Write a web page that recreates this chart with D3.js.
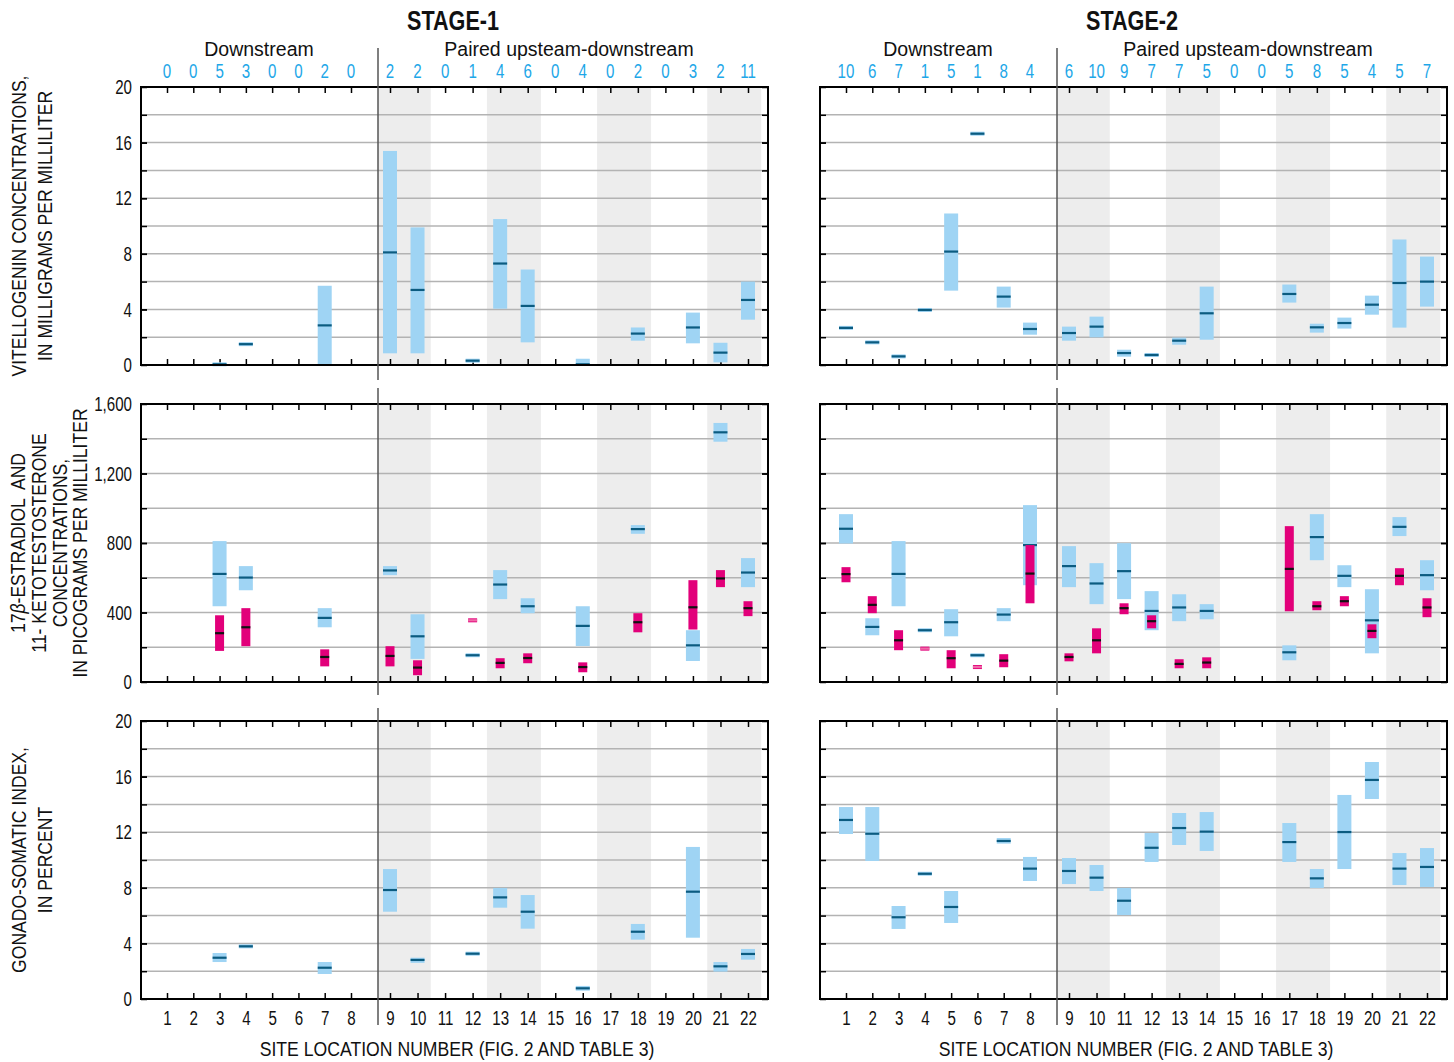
<!DOCTYPE html>
<meta charset="utf-8">
<style>
  body { margin: 0; background: #fff; }
  svg { font-family: "Liberation Sans", Arial, sans-serif; }
  .tick line { stroke: #000; stroke-width: 1.5; }
  .domain { display: none; }
</style>
<body>
<svg id="chart" width="1454" height="1062"></svg>
<script src="https://d3js.org/d3.v7.min.js"></script>
<script>
// ---- data ----
var sites = d3.range(1, 23);
var downSites = d3.range(1, 9);
var pairSites = d3.range(9, 23);
var shadedPairs = [[9, 10], [13, 14], [17, 18], [21, 22]];

// number of fish per site, shown above each panel
var countsStage1 = [0, 0, 5, 3, 0, 0, 2, 0, 2, 2, 0, 1, 4, 6, 0, 4, 0, 2, 0, 3, 2, 11];
var countsStage2 = [10, 6, 7, 1, 5, 1, 8, 4, 6, 10, 9, 7, 7, 5, 0, 0, 5, 8, 5, 4, 5, 7];

// [site, low, median, high]
var vtgStage1 = [[3,0,0.05,0.15],[4,1.45,1.5,1.55],[7,0,2.85,5.7],[9,0.84,8.1,15.4],[10,0.84,5.4,9.9],
  [12,0.22,0.31,0.4],[13,4.05,7.3,10.5],[14,1.63,4.25,6.87],[16,0,0.05,0.45],[18,1.75,2.26,2.7],
  [20,1.56,2.7,3.77],[21,0.19,0.89,1.6],[22,3.26,4.68,6.0]];
var vtgStage2 = [[1,2.6,2.67,2.75],[2,1.57,1.63,1.7],[3,0.57,0.62,0.68],[4,3.9,3.96,4.02],[5,5.35,8.16,10.9],
  [6,16.58,16.64,16.7],[7,4.13,4.92,5.64],[8,2.18,2.59,3.05],[9,1.75,2.3,2.76],[10,1.99,2.76,3.48],
  [11,0.6,0.86,1.1],[12,0.66,0.72,0.78],[13,1.46,1.75,1.97],[14,1.82,3.72,5.64],[17,4.49,5.11,5.79],
  [18,2.33,2.71,2.97],[19,2.62,3.02,3.41],[20,3.62,4.34,4.99],[21,2.69,5.9,9.03],[22,4.2,6.0,7.8]];

var e2Stage1 = [[3,436,622,811],[4,528,601,667],[7,315,369,425],[9,615,642,667],[10,133,263,390],
  [12,150,154,158],[13,477,561,644],[14,396,436,482],[16,207,323,436],[18,853,880,903],
  [20,121,211,298],[21,1383,1437,1491],[22,546,630,713]];
var ktStage1 = [[3,179,281,384],[4,206,315,425],[7,90,144,188],[9,90,150,206],[10,39,83,125],
  [12,352,355,360],[13,79,110,137],[14,108,138,165],[16,56,86,113],[18,286,344,396],
  [20,302,430,586],[21,546,596,644],[22,379,425,465]];
var e2Stage2 = [[1,797,882,966],[2,269,317,367],[3,436,622,811],[4,294,298,302],[5,263,344,419],
  [6,150,154,158],[7,350,388,425],[8,557,788,1018],[9,546,667,782],[10,448,567,684],
  [11,477,638,799],[12,298,409,523],[13,350,429,505],[14,361,409,448],[17,125,171,211],
  [18,701,834,966],[19,546,611,672],[20,165,355,534],[21,840,893,949],[22,528,615,701]];
var ktStage2 = [[1,574,621,661],[2,396,444,494],[3,183,240,298],[4,188,192,196],[5,79,137,183],
  [6,82,86,90],[7,85,123,160],[8,453,624,788],[9,119,144,165],[10,165,240,309],
  [11,390,425,453],[12,309,350,384],[13,79,104,131],[14,79,112,142],[17,407,651,897],
  [18,413,436,465],[19,436,465,494],[20,252,294,332],[21,557,611,655],[22,373,429,482]];

var gsiStage1 = [[3,2.66,2.97,3.31],[4,3.7,3.79,3.9],[7,1.8,2.25,2.66],[9,6.28,7.84,9.35],[10,2.6,2.81,2.97],
  [12,3.2,3.26,3.32],[13,6.57,7.31,7.99],[14,5.06,6.28,7.48],[16,0.6,0.77,0.94],[18,4.27,4.84,5.4],
  [20,4.41,7.72,10.94],[21,1.97,2.35,2.66],[22,2.83,3.24,3.6]];
var gsiStage2 = [[1,11.87,12.88,13.81],[2,9.93,11.89,13.81],[3,5.04,5.88,6.69],[4,8.97,9.01,9.05],
  [5,5.47,6.62,7.77],[7,11.18,11.37,11.58],[8,8.49,9.38,10.22],[9,8.27,9.21,10.14],[10,7.77,8.73,9.64],
  [11,6.04,7.07,7.99],[12,9.86,10.88,11.94],[13,11.08,12.3,13.38],[14,10.65,12.04,13.45],
  [17,9.86,11.29,12.66],[18,7.99,8.68,9.35],[19,9.35,12.01,14.68],[20,14.39,15.76,17.05],
  [21,8.2,9.38,10.5],[22,8.06,9.5,10.86]];

var vtgTicks = [0, 4, 8, 12, 16, 20];
var hormoneTicks = [0, 400, 800, 1200, 1600];
var gsiTicks = [0, 4, 8, 12, 16, 20];

// ---- layout ----
var svg = d3.select("#chart");
var panelW = 627, panelH = 278;
var colX = [141, 820];
var rowY = [87, 404, 721];
var blue = "#9fd4f4", blueMed = "#0b5b80", pink = "#e2007a", pinkMed = "#111";

// squeeze text horizontally to mimic the condensed face of the original
function squeeze(sel, k) {
  sel.each(function() {
    var t = d3.select(this);
    var tx = +t.attr("x") || 0, ty = +t.attr("y") || 0;
    t.attr("x", 0).attr("y", 0)
      .attr("transform", "translate(" + tx + "," + ty + ") scale(" + k + ",1)");
  });
}

var xDown = d3.scalePoint().domain(downSites).range([26, 210]);
var xPair = d3.scalePoint().domain(pairSites).range([249, 607]);
var x = d3.scaleOrdinal().domain(sites)
  .range(sites.map(function(s) { return s <= 8 ? xDown(s) : xPair(s); }));
var half = xPair.step() * 0.48;
var divX = 237;

var rows = [
  { y: d3.scaleLinear().domain([0, 20]).range([panelH, 0]), grid: d3.range(2, 20, 2), labels: vtgTicks,
    series: [[vtgStage1], [vtgStage2]], div: [48, 380],
    title: ["VITELLOGENIN CONCENTRATIONS,", "IN MILLIGRAMS PER MILLILITER"], titleX: [19, 45] },
  { y: d3.scaleLinear().domain([0, 1600]).range([panelH, 0]), grid: d3.range(200, 1600, 200), labels: hormoneTicks,
    series: [[e2Stage1, ktStage1], [e2Stage2, ktStage2]], div: [388, 695],
    title: ["17β-ESTRADIOL  AND", "11- KETOTESTOSTERONE", "CONCENTRATIONS,", "IN PICOGRAMS PER MILLILITER"], titleX: [18, 39, 60, 80] },
  { y: d3.scaleLinear().domain([0, 20]).range([panelH, 0]), grid: d3.range(2, 20, 2), labels: gsiTicks,
    series: [[gsiStage1], [gsiStage2]], div: [708, 1025],
    title: ["GONADO-SOMATIC INDEX,", "IN PERCENT"], titleX: [19, 45] }
];

rows.forEach(function(row, r) {
  var y = row.y;
  colX.forEach(function(cx, c) {
    var g = svg.append("g").attr("transform", "translate(" + cx + "," + rowY[r] + ")");

    // shaded pair bands
    g.selectAll(".band").data(shadedPairs).enter().append("rect")
      .attr("x", function(d) { return Math.max(divX, x(d[0]) - half); })
      .attr("width", function(d) { return x(d[1]) + half - Math.max(divX, x(d[0]) - half); })
      .attr("y", 0).attr("height", panelH)
      .attr("fill", "#ededed");

    // gridlines
    g.selectAll(".grid").data(row.grid).enter().append("line")
      .attr("x1", 0).attr("x2", panelW)
      .attr("y1", function(d) { return y(d); }).attr("y2", function(d) { return y(d); })
      .attr("stroke", "#b3b3b3").attr("stroke-width", 1.5);

    // axes with inward ticks
    var all = row.grid.concat(row.labels);
    g.append("g").call(d3.axisLeft(y).tickValues(all).tickSize(-6).tickFormat(""));
    g.append("g").attr("transform", "translate(" + panelW + ",0)")
      .call(d3.axisRight(y).tickValues(all).tickSize(-6).tickFormat(""));
    g.append("g").call(d3.axisTop(x).tickSize(-6).tickFormat(""));
    var bx = g.append("g").attr("transform", "translate(0," + panelH + ")")
      .call(d3.axisBottom(x).tickSize(-6).tickFormat(r == 2 ? d3.format("d") : ""));
    bx.selectAll("text").attr("y", 11).attr("font-size", 21).attr("font-family", null).attr("fill", "#111")
      .call(squeeze, 0.72);

    if (c == 0) {
      var yl = g.append("g").call(d3.axisLeft(y).tickValues(row.labels).tickSize(0).tickPadding(9).tickFormat(d3.format(",")));
      yl.selectAll("text").attr("font-size", 21).attr("font-family", null).attr("fill", "#111")
        .call(squeeze, 0.72);
    }

    // boxes
    row.series[c].forEach(function(data, k) {
      var w = k == 0 ? 14 : 9;
      var fill = k == 0 ? blue : pink;
      var med = k == 0 ? blueMed : pinkMed;
      var bg = g.append("g");
      bg.selectAll("rect").data(data).enter().append("rect")
        .attr("x", function(d) { return x(d[0]) - w / 2; })
        .attr("width", w)
        .attr("y", function(d) { return Math.min(y(d[3]), y(d[2]) - 2); })
        .attr("height", function(d) { return Math.max(y(d[1]) - y(d[3]), 4); })
        .attr("fill", fill);
      bg.selectAll("line").data(data).enter().append("line")
        .attr("x1", function(d) { return x(d[0]) - w / 2; })
        .attr("x2", function(d) { return x(d[0]) + w / 2; })
        .attr("y1", function(d) { return y(d[2]); })
        .attr("y2", function(d) { return y(d[2]); })
        .attr("stroke", function(d) { return (d[3] - d[1]) / (y.domain()[1]) < 0.01 && k == 1 ? "#f06aa8" : med; })
        .attr("stroke-width", 2.2);
    });

    // frame
    g.append("rect").attr("width", panelW).attr("height", panelH)
      .attr("fill", "none").attr("stroke", "#000").attr("stroke-width", 2);

    // divider between downstream and paired sites
    g.append("line").attr("x1", divX).attr("x2", divX)
      .attr("y1", row.div[0] - rowY[r]).attr("y2", row.div[1] - rowY[r])
      .attr("stroke", "#555").attr("stroke-width", 1.5);
  });

  // rotated axis title
  var cyT = rowY[r] + panelH / 2;
  row.title.forEach(function(t, i) {
    var tx = svg.append("text")
      .attr("transform", "translate(" + (row.titleX[i] + 7) + "," + cyT + ") rotate(-90) scale(0.9,1)")
      .attr("text-anchor", "middle").attr("font-size", 19.5).attr("fill", "#111")
      .style("white-space", "pre");
    if (t.indexOf("β") >= 0) {
      tx.append("tspan").text("17");
      tx.append("tspan").attr("font-style", "italic").text("β");
      tx.append("tspan").text(t.slice(3));
    } else tx.text(t);
  });
});

// headers
[["STAGE-1", countsStage1], ["STAGE-2", countsStage2]].forEach(function(h, c) {
  var cx = colX[c];
  svg.append("text").attr("x", cx + 312).attr("y", 30)
    .attr("text-anchor", "middle").attr("font-size", 27).attr("font-weight", "bold").attr("fill", "#111")
    .text(h[0]).call(squeeze, 0.8);
  svg.append("text").attr("x", cx + (x(1) + x(8)) / 2).attr("y", 56)
    .attr("text-anchor", "middle").attr("font-size", 19.5).attr("fill", "#111").text("Downstream");
  svg.append("text").attr("x", cx + (x(9) + x(22)) / 2).attr("y", 56)
    .attr("text-anchor", "middle").attr("font-size", 19.5).attr("fill", "#111").text("Paired upsteam-downstream");
  svg.append("g").selectAll("text").data(sites).enter().append("text")
    .attr("x", function(s) { return cx + x(s); }).attr("y", 78)
    .attr("text-anchor", "middle").attr("font-size", 21).attr("fill", "#1ea7e8")
    .text(function(s) { return h[1][s - 1]; })
    .call(squeeze, 0.72);
  svg.append("text").attr("x", cx + 316).attr("y", 1056)
    .attr("text-anchor", "middle").attr("font-size", 21).attr("fill", "#111")
    .text("SITE LOCATION NUMBER (FIG. 2 AND TABLE 3)")
    .call(squeeze, 0.84);
});
</script>
</body>
